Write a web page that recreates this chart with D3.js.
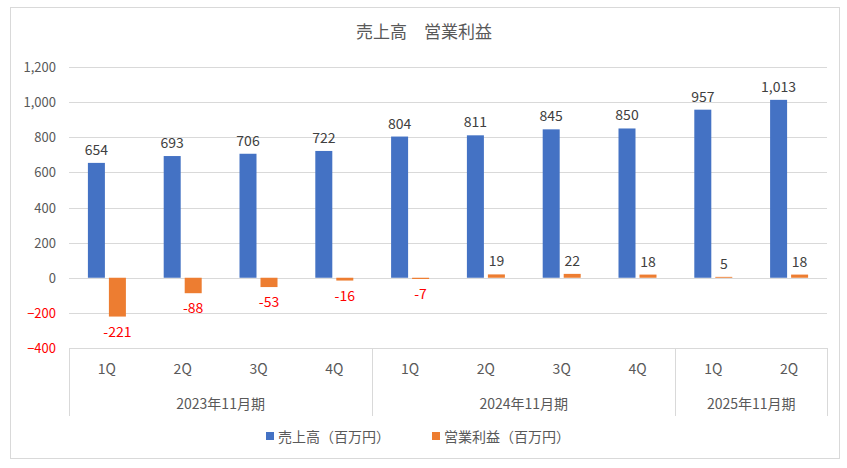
<!DOCTYPE html>
<html><head><meta charset="utf-8">
<script src="https://cdn.jsdelivr.net/npm/d3@7"></script>
<style>body{margin:0;background:#fff;font-family:"Noto Sans CJK JP","Noto Sans",sans-serif;}</style>
</head><body><svg id="c" width="847" height="468"></svg>
<script>
var quarters = ["1Q","2Q","3Q","4Q","1Q","2Q","3Q","4Q","1Q","2Q"];
var years = [{name:"2023年11月期",n:4},{name:"2024年11月期",n:4},{name:"2025年11月期",n:2}];
var sales = [654,693,706,722,804,811,845,850,957,1013];
var profit = [-221,-88,-53,-16,-7,19,22,18,5,18];
var ticks = [-400,-200,0,200,400,600,800,1000,1200];

var svg = d3.select("#c");
var L = 69, R = 827, T = 67, B = 348;
var fmt = d3.format(",");

svg.append("rect").attr("x",10.5).attr("y",7.5).attr("width",829).attr("height",451)
	.attr("fill","none").attr("stroke","#d9d9d9");

var x = d3.scaleBand().domain(d3.range(quarters.length)).range([L,R]);
var y = d3.scaleLinear().domain([-400,1200]).range([B,T]);

// grid
svg.selectAll(".g").data(ticks).enter().append("line")
	.attr("x1",L).attr("x2",R).attr("y1",function(d){return Math.round(y(d))+0.5;})
	.attr("y2",function(d){return Math.round(y(d))+0.5;}).attr("stroke","#d9d9d9");

svg.selectAll(".t").data(ticks).enter().append("text")
	.attr("x",L-13).attr("y",function(d){return y(d)+5;}).attr("text-anchor","end")
	.attr("font-size",13).attr("fill",function(d){return d<0?"#ff0000":"#595959";})
	.text(function(d){return fmt(d);});

var bw = 17;
svg.selectAll(".s").data(sales).enter().append("rect")
	.attr("x",function(d,i){return x(i)+x.bandwidth()/2-bw-2;}).attr("width",bw)
	.attr("y",function(d){return y(d);}).attr("height",function(d){return y(0)-y(d);})
	.attr("fill","#4472c4");
svg.selectAll(".p").data(profit).enter().append("rect")
	.attr("x",function(d,i){return x(i)+x.bandwidth()/2+2;}).attr("width",bw)
	.attr("y",function(d){return y(Math.max(d,0));}).attr("height",function(d){return Math.abs(y(0)-y(d));})
	.attr("fill","#ed7d31");

svg.selectAll(".sl").data(sales).enter().append("text")
	.attr("x",function(d,i){return x(i)+x.bandwidth()/2-bw/2-2;}).attr("y",function(d){return y(d)-8;})
	.attr("text-anchor","middle").attr("font-size",14).attr("fill","#404040").text(function(d){return fmt(d);});
svg.selectAll(".pl").data(profit).enter().append("text")
	.attr("x",function(d,i){return x(i)+x.bandwidth()/2+bw/2+2;})
	.attr("y",function(d){return d<0?y(d)+20:y(d)-8;})
	.attr("text-anchor","middle").attr("font-size",14)
	.attr("fill",function(d){return d<0?"#ff0000":"#404040";}).text(function(d){return d;});

// category axis
svg.selectAll(".q").data(quarters).enter().append("text")
	.attr("x",function(d,i){return x(i)+x.bandwidth()/2;}).attr("y",374)
	.attr("text-anchor","middle").attr("font-size",14).attr("fill","#595959").text(function(d){return d;});
var start = 0, seps = [L];
years.forEach(function(yr){
	var x0 = x(start), x1 = x(start+yr.n-1)+x.bandwidth();
	svg.append("text").attr("x",(x0+x1)/2).attr("y",409).attr("text-anchor","middle")
		.attr("font-size",14).attr("fill","#595959").text(yr.name);
	start += yr.n; seps.push(x1);
});
svg.selectAll(".sep").data(seps).enter().append("line")
	.attr("x1",function(d){return Math.round(d)+0.5;}).attr("x2",function(d){return Math.round(d)+0.5;})
	.attr("y1",B).attr("y2",416).attr("stroke","#d9d9d9");

svg.append("text").attr("x",424).attr("y",38).attr("text-anchor","middle")
	.attr("font-size",17).attr("fill","#595959").text("売上高　営業利益");

// legend
var leg = [{t:"売上高（百万円）",c:"#4472c4",x:266},{t:"営業利益（百万円）",c:"#ed7d31",x:432}];
leg.forEach(function(l){
	svg.append("rect").attr("x",l.x).attr("y",432).attr("width",8).attr("height",8).attr("fill",l.c);
	svg.append("text").attr("x",l.x+12).attr("y",442).attr("font-size",14).attr("fill","#595959").text(l.t);
});
</script></body></html>
